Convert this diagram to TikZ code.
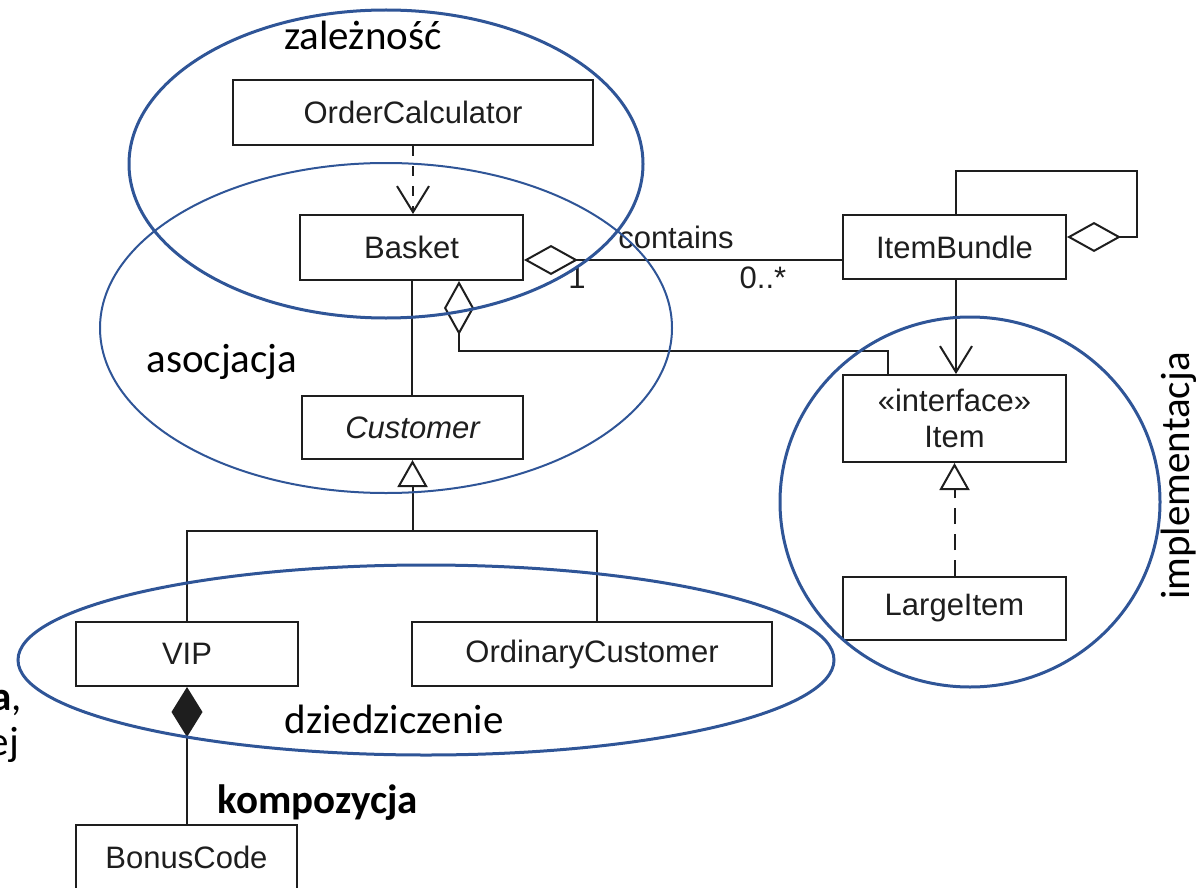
\documentclass[tikz,border=0pt]{standalone}
\usepackage{fontspec}
\setmainfont{Carlito}
\newfontfamily\umlfont{Liberation Sans}
\usetikzlibrary{arrows.meta}
\definecolor{ovalblue}{RGB}{47,85,151}
\definecolor{umlgray}{RGB}{30,30,30}
\tikzset{
  aggtip/.tip={Diamond[open,length=54pt,width=30pt]},
  comptip/.tip={Diamond[length=50pt,width=31pt]},
  barbtip/.tip={Straight Barb[length=26pt,width=32pt]},
  tritip/.tip={Triangle[open,length=27pt,width=30pt]}
}
\begin{document}
\begin{tikzpicture}[x=1pt,y=-1pt,
  umlbox/.style={draw=umlgray, line width=2pt, inner sep=0pt, font=\umlfont\fontsize{31}{36}\selectfont, text=umlgray, align=center},
  conn/.style={draw=umlgray, line width=2pt},
  oval/.style={draw=ovalblue, line width=3pt},
  thinoval/.style={draw=ovalblue, line width=2pt},
  lbl/.style={font=\fontsize{41}{48}\selectfont, anchor=base, text=black, inner sep=0pt},
  umltxt/.style={font=\umlfont\fontsize{31}{36}\selectfont, anchor=base, text=umlgray, inner sep=0pt}
]
\useasboundingbox (0,0) rectangle (1204,888);

% classes
\node[umlbox, minimum width=360pt, minimum height=65pt] (oc) at (413,112.5) {OrderCalculator};
\node[umlbox, minimum width=223pt, minimum height=65pt] (basket) at (411.5,247.5) {Basket};
\node[umlbox, minimum width=221pt, minimum height=63pt] (customer) at (412.5,427.5) {\itshape Customer};
\node[umlbox, minimum width=223pt, minimum height=64pt] (ib) at (954.5,247) {ItemBundle};
\node[umlbox, minimum width=223pt, minimum height=87pt] (item) at (954.5,418.5) {«interface»\\Item};
\node[umlbox, minimum width=223pt, minimum height=63pt] (li) at (954.5,608.5) {LargeItem};
\node[umlbox, minimum width=222pt, minimum height=64pt] (vip) at (187,654) {VIP};
\node[umlbox, minimum width=360pt, minimum height=64pt] (ord) at (592,654) {OrdinaryCustomer};
\node[umlbox, minimum width=221pt, minimum height=65pt] (bonus) at (186.5,857.5) {BonusCode};

% dependency
\draw[conn, dash pattern=on 10pt off 10pt, -{barbtip}] (oc.south) -- (oc.south |- basket.north);

% association basket - itembundle
\draw[conn, {aggtip}-] ([yshift=-12.5pt]basket.east) -- ([yshift=-12.5pt]basket.east -| ib.west);
\node[umltxt] (lcont) at (676,248) {contains};
\node[umltxt] (lone) at (577,288) {1};
\node[umltxt] (lmany) at (763,288) {0..*};

% self aggregation of ItemBundle
\coordinate (loop) at (1137,171);
\draw[conn, {aggtip}-] ([yshift=10pt]ib.east) -| (loop) -| ([xshift=1.5pt]ib.north);

% aggregation basket - item
\draw[conn, {aggtip}-] ([xshift=47.5pt]basket.south) -- ++(0,70) -| ([xshift=-66.5pt]item.north);

% basket - customer
\draw[conn] (basket.south) -- (basket.south |- customer.north);

% itembundle -> item
\draw[conn, -{barbtip}] ([xshift=1.5pt]ib.south) -- ([xshift=1.5pt]item.north);

% generalization
\coordinate (gen) at (412.5,531);
\draw[conn, -{tritip}] (gen) -- (customer.south);
\draw[conn] (vip.north) |- (gen) -| ([xshift=5pt]ord.north);

% realization
\draw[conn, dash pattern=on 16pt off 10pt, -{tritip}] (li.north) -- (item.south);

% composition
\draw[conn, {comptip}-] (vip.south) -- (vip.south |- bonus.north);

% ovals
\draw[oval] (386,164) ellipse [x radius=257pt, y radius=154pt];
\draw[thinoval] (386,328) ellipse [x radius=286pt, y radius=165pt];
\draw[oval] (426,660) ellipse [x radius=408pt, y radius=95pt];
\draw[oval] (970,502) ellipse [x radius=190pt, y radius=185pt];

% labels
\node[lbl] (tdep) at (363,50) {zależność};
\node[lbl] (tasoc) at (222,372) {asocjacja};
\node[lbl] (tdzie) at (394,733) {dziedziczenie};
\node[lbl, font=\fontsize{41}{48}\selectfont\bfseries] (tkomp) at (318,813) {kompozycja};
\node[lbl, anchor=base east] (tagr) at (22,710) {\textbf{a},};
\node[lbl, anchor=base east] (tej) at (19,755) {ej};
\node[lbl, anchor=base west, rotate=90] (timpl) at (1189,600) {implementacja};
\end{tikzpicture}
\end{document}
